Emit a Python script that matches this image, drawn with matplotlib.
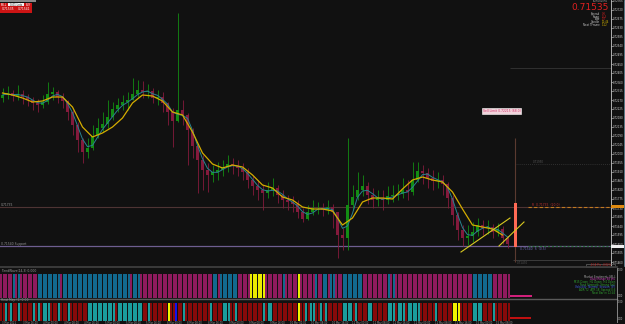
import matplotlib
matplotlib.use("Agg")
import matplotlib.pyplot as plt
import numpy as np
import pandas as pd
from matplotlib.patches import Rectangle
from matplotlib.lines import Line2D
from matplotlib.ticker import MultipleLocator, FormatStrFormatter

# ---------------- data ----------------
open0 = 0.72280
close = [0.72295, 0.72305, 0.72290, 0.72300, 0.72285, 0.72270, 0.72255, 0.72245, 0.72260, 0.72300,
         0.72310, 0.72285, 0.72265, 0.72210, 0.72145, 0.72070, 0.72010, 0.72030, 0.72090, 0.72130,
         0.72150, 0.72185, 0.72225, 0.72245, 0.72260, 0.72270, 0.72300, 0.72320, 0.72310, 0.72315,
         0.72280, 0.72285, 0.72255, 0.72210, 0.72165, 0.72220, 0.72195, 0.72120, 0.72040, 0.71970,
         0.71920, 0.71895, 0.71910, 0.71920, 0.71935, 0.71950, 0.71940, 0.71930, 0.71910, 0.71870,
         0.71840, 0.71820, 0.71805, 0.71820, 0.71830, 0.71795, 0.71770, 0.71760, 0.71750, 0.71710,
         0.71675, 0.71710, 0.71730, 0.71730, 0.71720, 0.71735, 0.71710, 0.71595, 0.71580, 0.71745,
         0.71785, 0.71820, 0.71840, 0.71795, 0.71770, 0.71780, 0.71770, 0.71790, 0.71795, 0.71800,
         0.71820, 0.71810, 0.71870, 0.71915, 0.71905, 0.71880, 0.71865, 0.71870, 0.71850, 0.71780,
         0.71695, 0.71620, 0.71580, 0.71590, 0.71610, 0.71645, 0.71630, 0.71635, 0.71610, 0.71625,
         0.71580, 0.71550]
high = [0.72330, 0.72340, 0.72320, 0.72345, 0.72320, 0.72300, 0.72285, 0.72275, 0.72295, 0.72360,
        0.72335, 0.72320, 0.72305, 0.72270, 0.72220, 0.72160, 0.72080, 0.72080, 0.72145, 0.72180,
        0.72210, 0.72270, 0.72260, 0.72280, 0.72295, 0.72310, 0.72380, 0.72370, 0.72365, 0.72350,
        0.72330, 0.72320, 0.72310, 0.72260, 0.72230, 0.72705, 0.72270, 0.72205, 0.72130, 0.72045,
        0.71995, 0.71955, 0.71945, 0.71960, 0.71970, 0.71995, 0.71980, 0.71970, 0.71955, 0.71930,
        0.71890, 0.71870, 0.71845, 0.71860, 0.71880, 0.71845, 0.71820, 0.71795, 0.71790, 0.71770,
        0.71730, 0.71745, 0.71770, 0.71760, 0.71755, 0.71770, 0.71750, 0.71695, 0.71630, 0.72080,
        0.71845, 0.71910, 0.71895, 0.71860, 0.71830, 0.71820, 0.71820, 0.71840, 0.71845, 0.71850,
        0.71880, 0.71870, 0.71960, 0.71960, 0.71945, 0.71930, 0.71920, 0.71910, 0.71895, 0.71860,
        0.71795, 0.71710, 0.71645, 0.71645, 0.71660, 0.71680, 0.71670, 0.71670, 0.71650, 0.71655,
        0.71640, 0.71590]
low = [0.72260, 0.72275, 0.72265, 0.72270, 0.72250, 0.72240, 0.72220, 0.72210, 0.72230, 0.72250,
       0.72270, 0.72255, 0.72230, 0.72170, 0.72095, 0.72010, 0.71955, 0.71980, 0.72020, 0.72080,
       0.72110, 0.72130, 0.72170, 0.72210, 0.72220, 0.72220, 0.72270, 0.72285, 0.72280, 0.72280,
       0.72255, 0.72245, 0.72210, 0.72145, 0.72035, 0.72160, 0.72145, 0.71945, 0.71980, 0.71805,
       0.71820, 0.71810, 0.71860, 0.71870, 0.71890, 0.71910, 0.71900, 0.71890, 0.71870, 0.71830,
       0.71795, 0.71770, 0.71720, 0.71780, 0.71790, 0.71755, 0.71730, 0.71720, 0.71710, 0.71680,
       0.71660, 0.71670, 0.71695, 0.71700, 0.71690, 0.71700, 0.71630, 0.71480, 0.71520, 0.71520,
       0.71720, 0.71770, 0.71790, 0.71750, 0.71730, 0.71740, 0.71720, 0.71750, 0.71760, 0.71770,
       0.71780, 0.71770, 0.71795, 0.71860, 0.71850, 0.71830, 0.71820, 0.71830, 0.71795, 0.71730,
       0.71645, 0.71570, 0.71540, 0.71545, 0.71560, 0.71590, 0.71595, 0.71600, 0.71580, 0.71590,
       0.71550, 0.71530]
# slow moving average (yellow), one value every second bar
slow_ma = [0.72305, 0.72295, 0.72280, 0.72260, 0.72265, 0.72285, 0.72285, 0.72235, 0.72135, 0.72085,
           0.72105, 0.72135, 0.72180, 0.72255, 0.72295, 0.72290, 0.72265, 0.72210, 0.72195, 0.72110,
           0.72005, 0.71950, 0.71930, 0.71945, 0.71935, 0.71895, 0.71845, 0.71830, 0.71785, 0.71770,
           0.71735, 0.71725, 0.71725, 0.71715, 0.71645, 0.71680, 0.71760, 0.71780, 0.71780, 0.71775,
           0.71825, 0.71870, 0.71885, 0.71870, 0.71860, 0.71810, 0.71725, 0.71645, 0.71635, 0.71625,
           0.71595]
fast_period = 3
bid = 0.71535
htf_candle = (0.71755, 0.71535)          # current higher-timeframe candle (top, bottom)
level_support = 0.71540
level_mid = 0.71735
level_upper = 0.71950
level_top = 0.72430
level_low = 0.71470
trend_a = ([91.7, 101.5], [0.71510, 0.71680])
trend_b = ([99.3, 104.3], [0.71540, 0.71660])

panel1_runs = [("M", 5), ("B", 1), ("M", 1), ("B", 1), ("M", 7), ("B", 9), ("M", 1), ("B", 27),
               ("M", 1), ("B", 3), ("M", 29), ("B", 2), ("M", 1), ("B", 7), ("M", 5), ("Y", 6),
               ("M", 7), ("B", 1), ("M", 5), ("Y", 1), ("M", 6), ("B", 1), ("M", 2), ("B", 2),
               ("M", 1), ("B", 2), ("M", 3), ("B", 8), ("M", 10), ("B", 1), ("M", 1), ("B", 1),
               ("M", 31), ("B", 8), ("M", 7)]
panel2_runs = [("R", 2), ("T", 1), ("R", 1), ("T", 1), ("R", 2), ("T", 1), ("R", 5), ("T", 1),
               ("R", 1), ("T", 1), ("R", 1), ("T", 3), ("R", 3), ("T", 1), ("R", 3), ("T", 1),
               ("R", 7), ("T", 11), ("R", 1), ("T", 10), ("R", 2), ("T", 1), ("R", 7), ("Y", 1),
               ("R", 2), ("U", 1), ("R", 2), ("T", 1), ("R", 10), ("T", 1), ("R", 4), ("T", 3),
               ("R", 2), ("T", 1), ("R", 10), ("T", 1), ("R", 1), ("T", 2), ("R", 10), ("Y", 1),
               ("R", 2), ("T", 1), ("R", 1), ("T", 2), ("R", 2), ("T", 1), ("R", 1), ("T", 1),
               ("R", 6), ("T", 4), ("R", 1), ("T", 1), ("R", 4), ("T", 2), ("R", 6), ("T", 3),
               ("R", 1), ("T", 3), ("R", 1), ("T", 5), ("R", 6), ("T", 1), ("R", 6), ("Y", 3),
               ("R", 5), ("T", 4), ("R", 4), ("T", 1), ("R", 6)]
time_labels = ["3 Mar 2021", "3 Mar 16:00", "4 Mar 00:00", "4 Mar 08:00", "4 Mar 16:00",
               "5 Mar 00:00", "5 Mar 08:00", "5 Mar 16:00", "8 Mar 00:00", "8 Mar 08:00",
               "8 Mar 16:00", "9 Mar 00:00", "9 Mar 08:00", "9 Mar 16:00", "10 Mar 00:00",
               "10 Mar 08:00", "10 Mar 16:00", "11 Mar 00:00", "11 Mar 08:00", "11 Mar 16:00",
               "12 Mar 00:00", "12 Mar 08:00", "12 Mar 16:00", "15 Mar 00:00", "15 Mar 08:00"]

# ---------------- style ----------------
BG = "#111111"
UP, DN = "#138c13", "#841a3c"
P1C = {"M": "#8e1a5e", "B": "#12698f", "Y": "#ecec00"}
P2C = {"R": "#870a0a", "T": "#1a9c9c", "Y": "#f2f200", "U": "#1010f0"}

W, H = 625, 324
fig = plt.figure(figsize=(W / 100, H / 100), dpi=100, facecolor=BG)


def add_ax(x0, y0, x1, y1):
    a = fig.add_axes([x0 / W, 1 - y1 / H, (x1 - x0) / W, (y1 - y0) / H])
    a.set_facecolor(BG)
    return a


def frect(x0, y0, x1, y1, **kw):
    fig.add_artist(Rectangle((x0 / W, 1 - y1 / H), (x1 - x0) / W, (y1 - y0) / H,
                             transform=fig.transFigure, **kw))


def ftext(x, y, s, **kw):
    fig.text(x / W, 1 - y / H, s, **kw)


XR = 611
XL = (-0.5, XR / 5 - 0.5)

# ---------------- main price panel ----------------
ax = add_ax(0, 0, XR, 266)
ax.set_xlim(*XL)
ax.set_ylim(0.71440, 0.72770)
n = len(close)
idx = np.arange(n)
opens = np.array([open0] + close[:-1])
cl = np.array(close)
cols = [UP if c >= o else DN for o, c in zip(opens, cl)]
ax.vlines(idx, low, high, colors=cols, lw=0.6, zorder=3)
ax.bar(idx, np.abs(cl - opens) + 0.00002, bottom=np.minimum(cl, opens), width=0.5,
       color=cols, linewidth=0, zorder=3)
fast = pd.Series(close).rolling(fast_period, min_periods=1).mean()
ax.plot(idx, fast, color="#2a8290", lw=0.7, zorder=4)
ax.plot(np.arange(0, 2 * len(slow_ma), 2), slow_ma, color="#d4ac00", lw=0.9, zorder=5)

# horizontal levels
ax.axhline(level_mid, color="#4e3434", lw=0.8, zorder=1)
ax.axhline(level_support, color="#6e5e90", lw=0.9, zorder=1)
ax.hlines(level_mid, 105, XL[1], colors="#c07a20", lw=0.8, linestyles=(0, (3, 2)), zorder=2)
ax.hlines(level_support, 105, XL[1], colors="#2c6e3c", lw=0.8, linestyles=(0, (2, 1.5)), zorder=2)
ax.hlines(level_upper, 102.5, XL[1], colors="#3a3a3a", lw=0.6, linestyles=(0, (1, 1.5)))
ax.hlines(level_top, 101.5, XL[1], colors="#303030", lw=0.7)
ax.hlines(level_low, 102.0, XL[1], colors="#3c3c3c", lw=0.7)
ax.vlines(102.5, level_low - 0.0001, 0.72080, colors="#5a3a30", lw=0.8)
ax.bar([102.6], [htf_candle[0] - htf_candle[1]], bottom=htf_candle[1], width=0.45,
       color="#ff6a55", linewidth=0, zorder=4)
ax.plot(*trend_a, color="#d8c820", lw=0.8, zorder=6)
ax.plot(*trend_b, color="#d8c820", lw=0.8, zorder=6)

ax.text(-0.3, level_mid + 0.00004, "0.71735", fontsize=2.2, color="#999999")
ax.text(-0.3, level_support + 0.00004, "0.71540 Support", fontsize=2.2, color="#999999")
ax.text(106, level_mid + 0.00003, "R  0.71735  (20.0)", fontsize=2.2, color="#c03030")
ax.text(103.5, level_support - 0.00003, "0.71540  S  (0.5)", fontsize=2.2, color="#7070c0",
        va="top")
ax.text(106, level_upper + 0.00003, "0.71950", fontsize=2.0, color="#555555")
ax.text(102.8, level_low - 0.00003, "0.71470", fontsize=2.0, color="#555555", va="top")
ax.text(99.8, 0.72215, "Sell Limit 0.72215 (68.0)", fontsize=2.2, color="#d03068",
        ha="center", va="center",
        bbox=dict(boxstyle="square,pad=0.3", fc="#f2d4dc", ec="#ffffff", lw=0.4))

for s in ["top", "left", "bottom"]:
    ax.spines[s].set_visible(False)
ax.spines["right"].set_color("#c8c8c8")
ax.spines["right"].set_linewidth(0.6)
ax.set_xticks([])
ax.yaxis.tick_right()
ax.yaxis.set_major_locator(MultipleLocator(0.00045))
ax.yaxis.set_major_formatter(FormatStrFormatter("%.5f"))
ax.tick_params(axis="y", colors="#d0d0d0", labelsize=1.9, length=1.2, width=0.4, pad=0.4)

# price markers on axis
ya = lambda p: (0.72770 - p) / 0.00005
frect(XR, ya(level_mid) - 1.5, 624, ya(level_mid) + 1.5, color="#e08a10", lw=0)
frect(XR, ya(bid) - 1.5, 624, ya(bid) + 1.5, color="#f0f0f0", lw=0)
fig.add_artist(Line2D([624.3 / W] * 2, [1 - 0 / H, 1 - 266 / H], color="#7aa6b8", lw=0.5,
                      transform=fig.transFigure))

# ---------------- indicator panel 1 ----------------
p1 = add_ax(0, 268, XR, 298)
p1.set_xlim(*XL)
p1.set_ylim(0, 1.25)
codes1 = "".join(c * k for c, k in panel1_runs)
x1 = 0.5 * np.arange(len(codes1)) - 0.25
p1.bar(x1, np.ones(len(codes1)), width=0.4, color=[P1C[c] for c in codes1], linewidth=0)
p1.axis("off")
ftext(1, 270.5, "TrendWave(14,3) 0.000", fontsize=2.2, color="#9a9a9a", va="center")

# ---------------- indicator panel 2 ----------------
p2 = add_ax(0, 299, XR, 321)
p2.set_xlim(*XL)
p2.set_ylim(0, 1.22)
codes2 = "".join(c * k for c, k in panel2_runs)
x2 = 0.5 * np.arange(len(codes2)) - 0.25
p2.bar(x2, np.ones(len(codes2)), width=0.4, color=[P2C[c] for c in codes2], linewidth=0)
p2.axis("off")
ftext(1, 300.5, "Heat Map (1) 0.00", fontsize=2.2, color="#9a9a9a", va="center")

# separators
fig.add_artist(Line2D([0, 617 / W], [1 - 267.3 / H] * 2, color="#3e3e3e", lw=1.3,
                      transform=fig.transFigure))
fig.add_artist(Line2D([0, 617 / W], [1 - 298.6 / H] * 2, color="#5a5a5a", lw=1.0,
                      transform=fig.transFigure))
fig.add_artist(Line2D([617 / W] * 2, [1 - 268 / H, 1 - 322 / H], color="#9a9a9a", lw=0.6,
                      transform=fig.transFigure))
ftext(618, 270, "1.00", fontsize=1.8, color="#bbbbbb", va="center")
ftext(618, 296, "0.00", fontsize=1.8, color="#bbbbbb", va="center")
ftext(618, 302, "1.00", fontsize=1.8, color="#bbbbbb", va="center")
ftext(618, 319, "0.00", fontsize=1.8, color="#bbbbbb", va="center")

# current values labels next to panels
frect(510, 295.3, 532, 297, color="#d0207a", lw=0)
frect(510, 317.2, 531, 319.2, color="#c01010", lw=0)

# right-side info block
frect(586, 263.5, 615, 267, fc="none", ec="#777777", lw=0.4)
ftext(600.5, 265.3, "-0.14 Pts  -0.02%", fontsize=1.8, color="#d02020", ha="center", va="center")
info = [("Market Sentiment: SELL", "#a0a0a0"),
        ("Daily Range 68 pts", "#d040c0"),
        ("M15 Down  H1 Down  H4 Down", "#30a030"),
        ("Trend Strength  Strong Sell", "#30a030"),
        ("Volatility  Normal  Session  NY", "#4060e0"),
        ("ADR 72  ATR 18  Spread 0.6", "#30a030"),
        ("Next Bar in 12:44", "#30a030")]
for k, (s, c) in enumerate(info):
    ftext(615, 276.5 + 2.7 * k, s, fontsize=1.9, color=c, ha="right", va="center")

# time axis labels
for k, s in enumerate(time_labels):
    ftext(2 + 20.6 * k, 322.6, s, fontsize=1.8, color="#9a9a9a", va="center")

# ---------------- top-left widget ----------------
frect(0, 0, 36, 2, color="#8a8a8a", lw=0)
frect(0, 3, 32, 12.5, color="#cc1414", lw=0)
frect(8, 3.5, 24, 6.2, color="#f4f4f4", lw=0)
ftext(16, 4.9, "0.01 Lots", fontsize=1.9, color="#222222", ha="center", va="center")
ftext(4, 4.9, "SELL", fontsize=1.9, color="#ffffff", ha="center", va="center")
ftext(28, 4.9, "BUY", fontsize=1.9, color="#ffffff", ha="center", va="center")
frect(15.8, 7, 16.3, 12.5, color="#881010", lw=0)
ftext(8, 9.5, "0.71535", fontsize=2.2, color="#ffffff", ha="center", va="center")
ftext(24, 9.5, "0.71541", fontsize=2.2, color="#ffffff", ha="center", va="center")

# ---------------- top-right info ----------------
ftext(609, 7.3, "0.71535", fontsize=6.5, color="#e02020", ha="right", va="center")
ftext(608, 1.5, "EURUSD,M5", fontsize=1.8, color="#aaaaaa", ha="right", va="center")
rows = [("Spread", "0.6", "#d02020"), ("Swap", "-0.3", "#d02020"), ("Low", "0.7", "#d02020"),
        ("Candle", "12:44", "#d0b000"), ("Next TFrame", "1:12", "#d0b000")]
for k, (a, b, c) in enumerate(rows):
    ftext(600, 14.2 + 2.6 * k, a, fontsize=1.9, color="#c8c8c8", ha="right", va="center")
    ftext(601.5, 14.2 + 2.6 * k, b, fontsize=1.9, color=c, ha="left", va="center")

fig.savefig("out.png", dpi=100, facecolor=BG)
